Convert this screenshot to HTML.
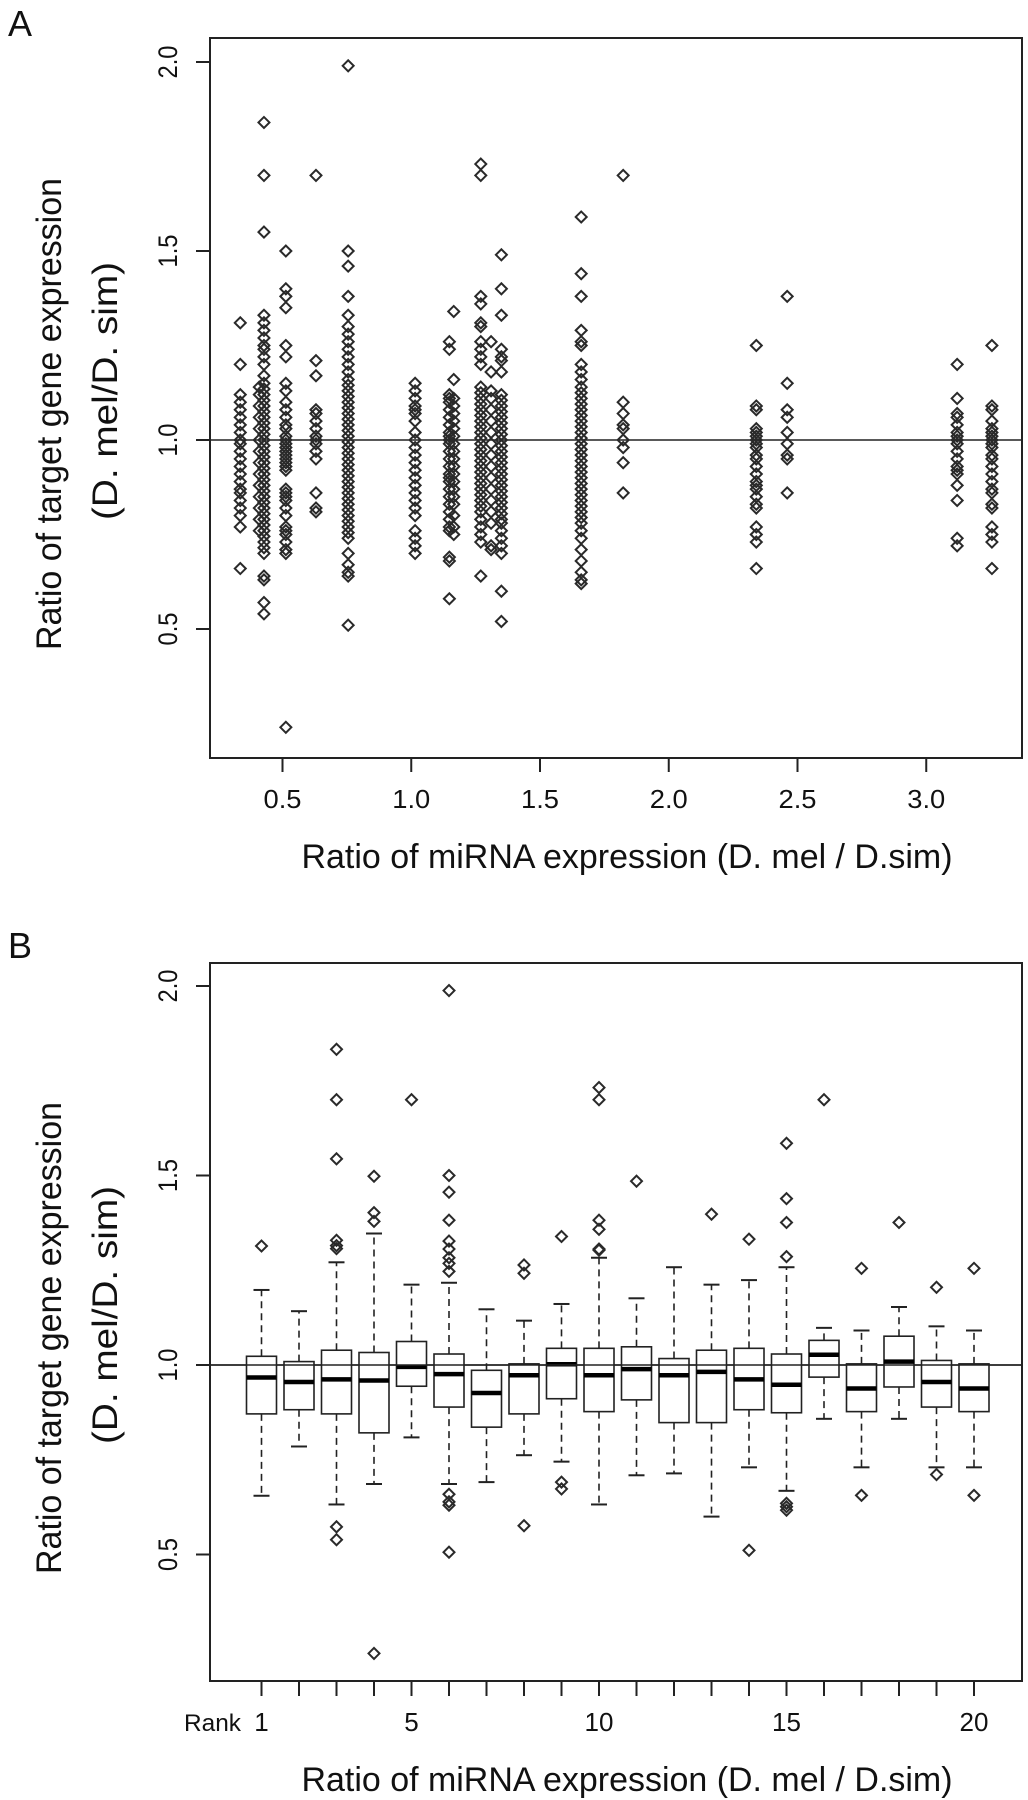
<!DOCTYPE html>
<html><head><meta charset="utf-8"><style>
html,body{margin:0;padding:0;background:#fff;}
svg{display:block;font-family:"Liberation Sans",Arial,sans-serif;}
</style></head><body>
<svg id="fig" width="1028" height="1800" viewBox="0 0 1028 1800">
<g id="pa"></g>
<g id="pb"></g>
</svg>
<script>
// ---------- Panel A data ----------
const colX = [0.336,0.41,0.428,0.513,0.63,0.755,1.015,1.148,1.165,1.27,1.31,1.35,1.66,1.823,2.34,2.46,3.12,3.255];
const colY = [
 [1.31,1.20,1.12,1.10,1.08,1.06,1.04,1.02,1.0,0.99,0.97,0.95,0.93,0.91,0.89,0.87,0.86,0.84,0.82,0.80,0.77,0.66],
 [1.14,1.12,1.09,1.06,1.03,1.0,0.97,0.94,0.91,0.88,0.85,0.82,0.79,0.76],
 [1.84,1.70,1.55,1.33,1.31,1.29,1.27,1.25,1.24,1.22,1.20,1.17,1.15,1.135,1.12,1.105,1.09,1.075,1.06,1.045,1.03,1.015,1.0,0.985,0.97,0.955,0.94,0.925,0.91,0.895,0.88,0.865,0.85,0.835,0.82,0.805,0.79,0.775,0.76,0.745,0.73,0.715,0.70,0.64,0.63,0.57,0.54],
 [1.50,1.40,1.38,1.35,1.25,1.22,1.15,1.13,1.10,1.08,1.06,1.04,1.03,1.01,1.0,0.99,0.98,0.97,0.96,0.95,0.94,0.93,0.92,0.87,0.86,0.85,0.84,0.82,0.80,0.77,0.76,0.75,0.73,0.71,0.70,0.24],
 [1.70,1.21,1.17,1.08,1.07,1.05,1.03,1.01,1.0,0.99,0.97,0.95,0.86,0.82,0.81],
 [1.99,1.50,1.46,1.38,1.33,1.30,1.28,1.26,1.24,1.22,1.20,1.18,1.16,1.145,1.13,1.115,1.10,1.085,1.07,1.055,1.04,1.025,1.01,0.995,0.98,0.965,0.95,0.935,0.92,0.905,0.89,0.875,0.86,0.845,0.83,0.815,0.80,0.785,0.77,0.755,0.74,0.70,0.67,0.65,0.64,0.51],
 [1.15,1.13,1.11,1.09,1.08,1.07,1.05,1.02,1.0,0.98,0.96,0.94,0.92,0.90,0.88,0.86,0.84,0.82,0.80,0.76,0.74,0.72,0.70],
 [1.26,1.24,1.12,1.11,1.10,1.08,1.06,1.04,1.02,1.01,1.0,0.99,0.97,0.95,0.93,0.91,0.90,0.89,0.87,0.85,0.83,0.81,0.79,0.77,0.76,0.69,0.68,0.58],
 [1.34,1.16,1.11,1.09,1.07,1.05,1.03,1.01,0.99,0.97,0.95,0.93,0.91,0.89,0.87,0.85,0.83,0.80,0.77,0.75],
 [1.73,1.70,1.38,1.36,1.31,1.30,1.26,1.24,1.22,1.20,1.14,1.125,1.11,1.095,1.08,1.065,1.05,1.035,1.02,1.005,0.99,0.975,0.96,0.945,0.93,0.915,0.90,0.885,0.87,0.855,0.84,0.825,0.81,0.79,0.77,0.75,0.73,0.64],
 [1.26,1.18,1.13,1.11,1.08,1.05,1.02,0.99,0.96,0.93,0.90,0.87,0.84,0.81,0.78,0.72,0.71],
 [1.49,1.40,1.33,1.24,1.22,1.21,1.18,1.12,1.105,1.09,1.075,1.06,1.045,1.03,1.015,1.0,0.985,0.97,0.955,0.94,0.925,0.91,0.895,0.88,0.865,0.85,0.835,0.82,0.805,0.79,0.78,0.76,0.74,0.72,0.70,0.60,0.52],
 [1.59,1.44,1.38,1.29,1.26,1.25,1.20,1.18,1.16,1.14,1.125,1.11,1.095,1.08,1.065,1.05,1.035,1.02,1.005,0.99,0.975,0.96,0.945,0.93,0.915,0.90,0.885,0.87,0.855,0.84,0.825,0.81,0.795,0.78,0.76,0.74,0.71,0.68,0.65,0.63,0.62],
 [1.70,1.10,1.07,1.04,1.03,1.0,0.98,0.94,0.86],
 [1.25,1.09,1.08,1.03,1.02,1.01,1.0,0.99,0.98,0.96,0.95,0.93,0.91,0.89,0.88,0.87,0.85,0.83,0.82,0.77,0.75,0.73,0.66],
 [1.38,1.15,1.08,1.06,1.02,0.99,0.96,0.95,0.86],
 [1.20,1.11,1.07,1.06,1.04,1.02,1.01,1.0,0.99,0.97,0.95,0.93,0.92,0.91,0.88,0.84,0.74,0.72],
 [1.25,1.09,1.08,1.05,1.03,1.02,1.01,1.0,0.99,0.98,0.96,0.95,0.93,0.91,0.89,0.87,0.86,0.83,0.82,0.77,0.75,0.73,0.66]
];
const aXTicks = [0.5,1.0,1.5,2.0,2.5,3.0];
const aXTickLabels = ["0.5","1.0","1.5","2.0","2.5","3.0"];
const yTicks = [0.5,1.0,1.5,2.0];
const yTickLabels = ["0.5","1.0","1.5","2.0"];
// ---------- Panel B data ----------
const ranks = [1,2,3,4,5,6,7,8,9,10,11,12,13,14,15,16,17,18,19,20];
const q1   = [0.871,0.882,0.871,0.821,0.944,0.889,0.836,0.871,0.911,0.877,0.908,0.848,0.848,0.882,0.874,0.968,0.877,0.942,0.889,0.877];
const med  = [0.967,0.955,0.962,0.959,0.995,0.976,0.926,0.973,1.002,0.973,0.989,0.973,0.982,0.962,0.948,1.027,0.938,1.009,0.955,0.938];
const q3   = [1.023,1.009,1.039,1.033,1.062,1.029,0.986,1.003,1.044,1.044,1.048,1.017,1.039,1.044,1.029,1.065,1.003,1.076,1.012,1.003];
const wLow = [0.655,0.785,0.632,0.686,0.809,0.686,0.691,0.762,0.745,0.632,0.709,0.714,0.600,0.730,0.668,0.858,0.730,0.858,0.730,0.730];
const wHigh= [1.198,1.142,1.271,1.347,1.212,1.217,1.147,1.117,1.161,1.283,1.176,1.258,1.212,1.224,1.258,1.098,1.091,1.153,1.102,1.091];
const outliers = [
 [1.314],[],[1.833,1.70,1.544,1.329,1.315,1.307,0.573,0.539],[1.498,1.402,1.379,0.239],[1.70],
 [1.988,1.50,1.456,1.382,1.327,1.306,1.283,1.268,1.247,0.659,0.639,0.630,0.506],[],[1.264,1.242,0.576],
 [1.339,0.691,0.673],[1.732,1.70,1.382,1.358,1.306,1.303],[1.485],[],[1.398],[1.332,0.511],
 [1.585,1.439,1.376,1.286,0.635,0.626,0.617],[1.70],[1.255,0.656],[1.376],[1.205,0.711],[1.255,0.656]
];
const bXTickLabels = ["1","5","10","15","20"];
const bXTickRanks = [1,5,10,15,20];

const NS="http://www.w3.org/2000/svg";
function mk(parent,tag,attrs){const e=document.createElementNS(NS,tag);for(const k in attrs)e.setAttribute(k,attrs[k]);parent.appendChild(e);return e;}
const L=210,R=1022;
function diamond(g,x,y){
  const s=5.5;
  const p=mk(g,'path',{d:`M${x-s} ${y}L${x} ${y-s}L${x+s} ${y}L${x} ${y+s}Z`,fill:'none',stroke:'#2a2a2a','stroke-width':2});
  
  
}
function frame(g,top,bot,yFn,label,letterY){
  const r=mk(g,'rect',{x:L,y:top,width:R-L,height:bot-top,fill:'none',stroke:'#222','stroke-width':2});
  
  const ln=mk(g,'line',{x1:L,x2:R,y1:yFn(1),y2:yFn(1),stroke:'#222','stroke-width':1.6});
  
  yTicks.forEach((v,i)=>{
    const y=yFn(v);
    const t=mk(g,'line',{x1:L-14,x2:L,y1:y,y2:y,stroke:'#222','stroke-width':2});
    
    const tx=mk(g,'text',{x:0,y:0,transform:`translate(177 ${y}) rotate(-90)`,'text-anchor':'middle','font-size':27,textLength:33,lengthAdjust:'spacingAndGlyphs',fill:'#111'});
    tx.textContent=yTickLabels[i];
    
  });
  const cy=(top+bot)/2;
  const t1=mk(g,'text',{transform:`translate(61 ${cy+16}) rotate(-90)`,'text-anchor':'middle','font-size':35,textLength:472,lengthAdjust:'spacingAndGlyphs',fill:'#111'});
  t1.textContent='Ratio of target gene expression';
  
  const t2=mk(g,'text',{transform:`translate(117 ${cy-7}) rotate(-90)`,'text-anchor':'middle','font-size':35,textLength:258,lengthAdjust:'spacingAndGlyphs',fill:'#111'});
  t2.textContent='(D. mel/D. sim)';
  
  const xl=mk(g,'text',{x:627,y:bot+110,'text-anchor':'middle','font-size':34,textLength:651,lengthAdjust:'spacingAndGlyphs',fill:'#111'});
  xl.textContent='Ratio of miRNA expression (D. mel / D.sim)';
  
  const le=mk(g,'text',{x:8,y:letterY,'font-size':36,fill:'#111'});
  le.textContent=label;
  
}
// Panel A
(function(){
  const g=document.getElementById('pa');
  const top=38,bot=758;
  const yA=v=>440-(v-1)*378;
  const xA=v=>282.5+(v-0.5)*257.5;
  frame(g,top,bot,yA,'A',36);
  aXTicks.forEach((v,i)=>{
    const x=xA(v);
    const t=mk(g,'line',{x1:x,x2:x,y1:bot,y2:bot+14,stroke:'#222','stroke-width':2});
    
    const tx=mk(g,'text',{x:x,y:bot+50,'text-anchor':'middle','font-size':26,textLength:38,lengthAdjust:'spacingAndGlyphs',fill:'#111'});
    tx.textContent=aXTickLabels[i];
    
  });
  colX.forEach((cx,ci)=>{colY[ci].forEach(v=>diamond(g,xA(cx),yA(v)));});
})();
// Panel B
(function(){
  const g=document.getElementById('pb');
  const top=963,bot=1681;
  const yB=v=>1365-(v-1)*379;
  const xB=r=>261.5+(r-1)*37.5;
  frame(g,top,bot,yB,'B',958);
  ranks.forEach((r,i)=>{
    const x=xB(r);
    const t=mk(g,'line',{x1:x,x2:x,y1:bot,y2:bot+15,stroke:'#222','stroke-width':2});
    
    const grp=mk(g,'g',{});
    
    
    const hw=15, cw=8;
    mk(grp,'line',{x1:x,x2:x,y1:yB(q3[i]),y2:yB(wHigh[i]),stroke:'#222','stroke-width':1.6,'stroke-dasharray':'7 5'});
    mk(grp,'line',{x1:x,x2:x,y1:yB(q1[i]),y2:yB(wLow[i]),stroke:'#222','stroke-width':1.6,'stroke-dasharray':'7 5'});
    mk(grp,'line',{x1:x-cw,x2:x+cw,y1:yB(wHigh[i]),y2:yB(wHigh[i]),stroke:'#222','stroke-width':2});
    mk(grp,'line',{x1:x-cw,x2:x+cw,y1:yB(wLow[i]),y2:yB(wLow[i]),stroke:'#222','stroke-width':2});
    mk(grp,'rect',{x:x-hw,y:yB(q3[i]),width:2*hw,height:yB(q1[i])-yB(q3[i]),fill:'#fff',stroke:'#222','stroke-width':1.6});
    mk(grp,'line',{x1:x-hw,x2:x+hw,y1:yB(med[i]),y2:yB(med[i]),stroke:'#000','stroke-width':4.5});
    outliers[i].forEach(v=>diamond(g,x,yB(v)));
  });
  const ln=mk(g,'line',{x1:L,x2:R,y1:yB(1),y2:yB(1),stroke:'#222','stroke-width':1.4});
  
  bXTickRanks.forEach((r,i)=>{
    const tx=mk(g,'text',{x:xB(r),y:1731,'text-anchor':'middle','font-size':26,fill:'#111'});
    tx.textContent=bXTickLabels[i];
    
  });
  const rk=mk(g,'text',{x:241,y:1731,'text-anchor':'end','font-size':24,textLength:57,lengthAdjust:'spacingAndGlyphs',fill:'#111'});
  rk.textContent='Rank';
  
})();
</script>
</body></html>
